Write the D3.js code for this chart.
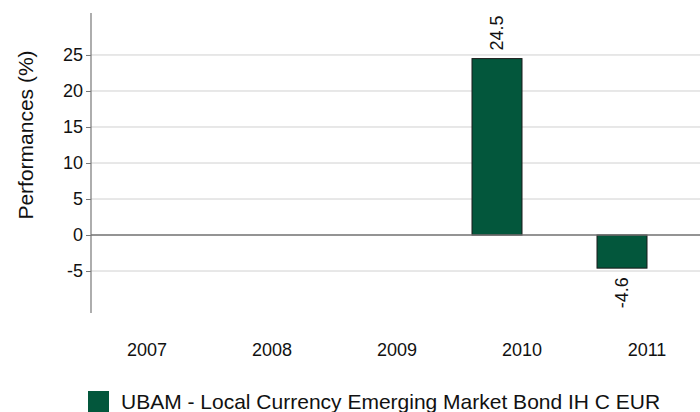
<!DOCTYPE html>
<html><head><meta charset="utf-8">
<script src="https://cdn.jsdelivr.net/npm/d3@7"></script>
<style>body{margin:0;background:#fff}svg{display:block}text{font-family:"Liberation Sans",Arial,sans-serif;fill:#111}</style>
</head><body><svg id="c" width="700" height="412"></svg>
<script>
const categories = ["2007","2008","2009","2010","2011"];
const seriesName = "UBAM - Local Currency Emerging Market Bond IH C EUR";
const values = [null, null, null, 24.5, -4.6];
const valueLabels = ["", "", "", "24.5", "-4.6"];
const yTicks = [-5, 0, 5, 10, 15, 20, 25];
const yTitle = "Performances (%)";

const svg = d3.select("#c");
const fs = 18;
const fsBig = 21;
const axisX = 91;
const y = d3.scaleLinear().domain([-10.83, 30.83]).range([313, 13]);
const x = d3.scaleBand().domain(categories).range([84.5, 709.5]).padding(0);
const sub = d3.scaleBand().domain(["s0","s1"]).range([0, x.bandwidth()]).paddingInner(0).paddingOuter(0.25);
const green = "#03573c";

// gridlines
svg.append("g").selectAll("line").data(yTicks.filter(t => t !== 0)).join("line")
  .attr("x1", axisX).attr("x2", 700).attr("y1", d => y(d)).attr("y2", d => y(d))
  .attr("stroke", "#d0d0d0").attr("stroke-width", 1);

// y axis
const yAxis = d3.axisLeft(y).tickValues(yTicks).tickSize(5).tickPadding(3).tickFormat(d => String(d));
const ga = svg.append("g").attr("transform", `translate(${axisX},0)`).call(yAxis);
ga.select(".domain").remove();
ga.selectAll(".tick line").attr("stroke", "#777");
ga.selectAll(".tick text").attr("font-size", fs).attr("font-family", '"Liberation Sans",Arial,sans-serif').attr("fill", "#111");
svg.append("line").attr("x1", axisX).attr("x2", axisX).attr("y1", y.range()[1]).attr("y2", y.range()[0])
  .attr("stroke", "#777").attr("stroke-width", 1.2);

// bars
const data = categories.map((c, i) => ({c, v: values[i], l: valueLabels[i]})).filter(d => d.v != null);
svg.append("g").selectAll("rect").data(data).join("rect")
  .attr("x", d => x(d.c) + sub("s0")).attr("width", sub.bandwidth())
  .attr("y", d => y(Math.max(0, d.v))).attr("height", d => Math.abs(y(d.v) - y(0)))
  .attr("fill", green).attr("stroke", "#1a1a1a").attr("stroke-width", 1);

// zero line
svg.append("line").attr("x1", axisX).attr("x2", 700).attr("y1", y(0)).attr("y2", y(0))
  .attr("stroke", "#707070").attr("stroke-width", 1.5);

// value labels
svg.append("g").selectAll("text").data(data).join("text")
  .attr("transform", d => {
    const cx = x(d.c) + sub("s0") + sub.bandwidth() / 2 + 6;
    const yy = d.v >= 0 ? y(d.v) - 8 : y(d.v) + 9;
    return `translate(${cx},${yy}) rotate(-90)`;
  })
  .attr("text-anchor", d => d.v >= 0 ? "start" : "end")
  .attr("font-size", fs).text(d => d.l);

// x labels
svg.append("g").selectAll("text").data(categories).join("text")
  .attr("x", d => x(d) + x.bandwidth() / 2).attr("y", 356)
  .attr("text-anchor", "middle").attr("font-size", fs).text(d => d);

// y title
svg.append("text").attr("transform", `translate(33,135) rotate(-90)`)
  .attr("text-anchor", "middle").attr("font-size", fsBig).text(yTitle);

// legend
svg.append("rect").attr("x", 88).attr("y", 391).attr("width", 21).attr("height", 21).attr("fill", green);
svg.append("text").attr("x", 121).attr("y", 409).attr("font-size", fsBig).text(seriesName);
</script></body></html>
